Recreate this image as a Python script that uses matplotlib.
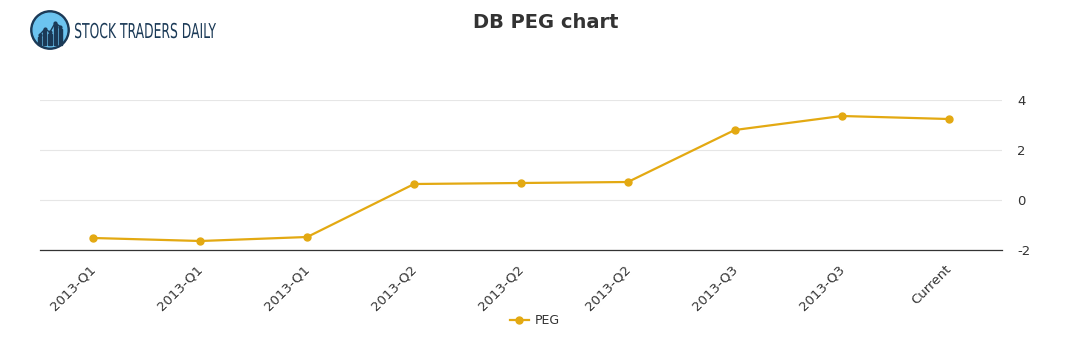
import matplotlib.pyplot as plt
from matplotlib.patches import Circle, Rectangle, PathPatch
from matplotlib.textpath import TextPath
from matplotlib.font_manager import FontProperties
from matplotlib.transforms import Affine2D, ScaledTranslation

plt.rcParams["axes.unicode_minus"] = False

# data
labels = ["2013-Q1", "2013-Q1", "2013-Q1", "2013-Q2", "2013-Q2", "2013-Q2",
          "2013-Q3", "2013-Q3", "Current"]
peg = [-1.52, -1.64, -1.48, 0.64, 0.68, 0.72, 2.80, 3.36, 3.24]
yticks = [-2, 0, 2, 4]

W, H = 1091, 350
fig = plt.figure(figsize=(W / 100, H / 100), dpi=100)
ax = fig.add_axes([40 / W, 1 - 250 / H, 962 / W, 150 / H])

color = "#e3a912"
x = list(range(len(peg)))
ax.plot(x, peg, color=color, lw=1.6, marker="o", ms=5, label="PEG", zorder=3)

ax.set_xlim(-0.5, len(peg) - 0.5)
ax.set_ylim(-2, 4)
ax.set_yticks(yticks)
ax.yaxis.tick_right()
ax.tick_params(axis="y", length=0, pad=11, labelsize=9.5, labelcolor="#333333")
ax.set_xticks(x)
ax.set_xticklabels(labels, rotation=45, ha="right", rotation_mode="anchor",
                   fontsize=9.5, color="#333333")
ax.tick_params(axis="x", length=0, pad=9)
shift = ScaledTranslation(-4 / 100, 0, fig.dpi_scale_trans)
for lab in ax.get_xticklabels():
    lab.set_transform(lab.get_transform() + shift)
ax.grid(axis="y", color="#e6e6e6", lw=0.8)
ax.set_axisbelow(True)
for s in ["top", "left", "right"]:
    ax.spines[s].set_visible(False)
ax.spines["bottom"].set_color("#333333")
ax.spines["bottom"].set_linewidth(0.9)

fig.text(546 / W, 1 - 23 / H, "DB PEG chart", ha="center", va="center",
         fontsize=14, fontweight="bold", color="#333333")

leg = fig.legend(loc="center", bbox_to_anchor=(535 / W, 1 - 321 / H), frameon=False,
                 fontsize=9, handlelength=1.5, handletextpad=0.5)
for t in leg.get_texts():
    t.set_color("#333333")

# logo
navy = "#1b3a57"
lax = fig.add_axes([30 / W, 1 - 50 / H, 40 / W, 40 / H])
lax.set_xlim(0, 1)
lax.set_ylim(0, 1)
lax.set_aspect("equal")
lax.axis("off")
lax.add_patch(Circle((0.5, 0.5), 0.48, color=navy))
lax.add_patch(Circle((0.5, 0.5), 0.42, color="#6cc4f0"))
for bx, bh in zip([0.2, 0.33, 0.46, 0.59, 0.72], [0.2, 0.35, 0.28, 0.5, 0.4]):
    lax.add_patch(Rectangle((bx, 0.12), 0.08, bh, color=navy))
lax.plot([0.24, 0.37, 0.5, 0.63, 0.76], [0.38, 0.52, 0.45, 0.68, 0.58],
         color=navy, lw=1, marker="o", ms=2)

# condensed logo wordmark: squeeze a text path horizontally
tp = TextPath((0, 0), "STOCK TRADERS DAILY", size=20.5,
              prop=FontProperties(family="DejaVu Sans"))
ext = tp.get_extents()
sx = 141 / ext.width
tr = Affine2D().translate(-ext.x0, 0).scale(sx, 1).translate(75, H - 38)
fig.add_artist(PathPatch(tp, transform=tr, color=navy, lw=0))

fig.savefig("out.png", dpi=100)
